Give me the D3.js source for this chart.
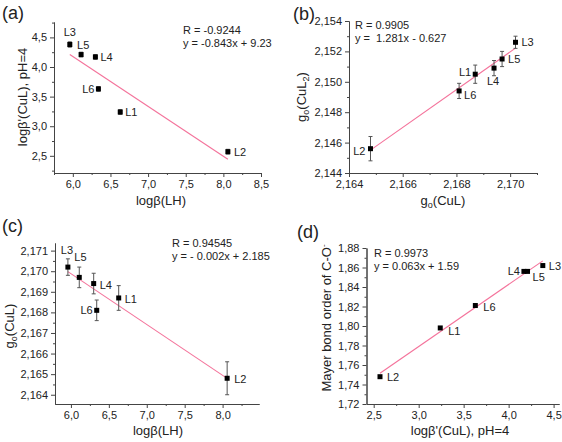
<!DOCTYPE html>
<html><head><meta charset="utf-8">
<script src="https://cdn.jsdelivr.net/npm/d3@7"></script>
<style>
body{margin:0;background:#fff;}
text{font-family:"Liberation Sans",Arial,sans-serif;fill:#222;}
</style></head>
<body><svg id="c" width="562" height="442"></svg>
<script>
// ---- data ----
const ligands      = ["L1","L2","L3","L4","L5","L6"];
const logBetaLH    = [6.63, 8.06, 5.96, 6.30, 6.11, 6.34];
const logBetaCuL   = [3.24, 2.57, 4.38, 4.17, 4.21, 3.63];
const logBetaCuLEr = [0.04, 0.04, 0.045, 0.04, 0.04, 0.04];
const goCuL        = [2.1687, 2.1648, 2.1702, 2.1694, 2.1697, 2.1681];
const goCuLErr     = [0.0006, 0.0008, 0.0004, 0.0005, 0.0005, 0.0005];
const goCuL2       = [2.1505, 2.1456, 2.1526, 2.1509, 2.1515, 2.1494];
const goCuL2Err    = [0.0006, 0.0008, 0.0004, 0.0005, 0.0005, 0.0005];
const mayerBO      = [1.798, 1.748, 1.862, 1.856, 1.856, 1.821];

const aXTicks = [6.0, 6.5, 7.0, 7.5, 8.0, 8.5];
const aYTicks = [2.5, 3.0, 3.5, 4.0, 4.5];
const bXTicks = [2.164, 2.166, 2.168, 2.170];
const bYTicks = [2.144, 2.146, 2.148, 2.150, 2.152, 2.154];
const cXTicks = [6.0, 6.5, 7.0, 7.5, 8.0];
const cYTicks = [2.164, 2.165, 2.166, 2.167, 2.168, 2.169, 2.170, 2.171];
const dXTicks = [2.5, 3.0, 3.5, 4.0, 4.5];
const dYTicks = [1.72, 1.74, 1.76, 1.78, 1.80, 1.82, 1.84, 1.86, 1.88];

const fitA = ["R = -0.9244", "y = -0.843x + 9.23"];
const fitB = ["R = 0.9905", "y =  1.281x - 0.627"];
const fitC = ["R = 0.94545", "y = - 0.002x + 2.185"];
const fitD = ["R = 0.9973", "y = 0.063x + 1.59"];

// ---- drawing ----
const svg = d3.select("#c");
const LINE = "#f4739b", AX = "#444";

function comma(dec){ return d => d.toFixed(dec).replace(".", ","); }

function panel(o){
  const g = svg.append("g");
  const x = d3.scaleLinear().domain(o.xd).range(o.xr);
  const y = d3.scaleLinear().domain(o.yd).range(o.yr);
  const minor = (t) => { const out=[]; for(let i=0;i<t.length-1;i++) out.push((t[i]+t[i+1])/2); return out; };
  const xm = minor(o.xt).concat([o.xt[0]-(o.xt[1]-o.xt[0])/2, o.xt[o.xt.length-1]+(o.xt[1]-o.xt[0])/2]).filter(v=>v>=o.xd[0]&&v<=o.xd[1]);
  const ym = minor(o.yt).concat([o.yt[0]-(o.yt[1]-o.yt[0])/2, o.yt[o.yt.length-1]+(o.yt[1]-o.yt[0])/2]).filter(v=>v>=o.yd[0]&&v<=o.yd[1]);
  g.append("g").attr("transform",`translate(0,${o.yr[0]})`)
    .call(d3.axisBottom(x).tickValues(o.xt).tickFormat(comma(o.xdec)).tickSize(4).tickSizeOuter(0));
  g.append("g").attr("transform",`translate(0,${o.yr[0]})`)
    .call(d3.axisBottom(x).tickValues(xm).tickFormat("").tickSize(2).tickSizeOuter(0));
  g.append("g").attr("transform",`translate(${o.xr[0]},0)`)
    .call(d3.axisLeft(y).tickValues(o.yt).tickFormat(comma(o.ydec)).tickSize(4).tickSizeOuter(0));
  g.append("g").attr("transform",`translate(${o.xr[0]},0)`)
    .call(d3.axisLeft(y).tickValues(ym).tickFormat("").tickSize(2).tickSizeOuter(0));
  g.selectAll(".domain").attr("stroke",AX).attr("stroke-width",1);
  g.selectAll(".tick line").attr("stroke",AX);
  g.selectAll(".tick text").attr("font-size",11).attr("font-family","Liberation Sans, Arial, sans-serif").attr("fill","#333");

  // regression line
  const xs=o.xs, ys=o.ys, n=xs.length;
  const mx=d3.mean(xs), my=d3.mean(ys);
  let sxy=0,sxx=0; for(let i=0;i<n;i++){sxy+=(xs[i]-mx)*(ys[i]-my); sxx+=(xs[i]-mx)**2;}
  const b=sxy/sxx, a=my-b*mx;
  const [x0,x1]=d3.extent(xs);
  g.append("line").attr("x1",x(x0)).attr("y1",y(a+b*x0)).attr("x2",x(x1)).attr("y2",y(a+b*x1))
    .attr("stroke",LINE).attr("stroke-width",1.1);

  // error bars
  if(o.ye){
    const eb = g.append("g").attr("stroke","#555").attr("stroke-width",1);
    xs.forEach((v,i)=>{
      const px=x(v), t=y(ys[i]+o.ye[i]), bt=y(ys[i]-o.ye[i]);
      eb.append("line").attr("x1",px).attr("x2",px).attr("y1",t).attr("y2",bt);
      eb.append("line").attr("x1",px-2).attr("x2",px+2).attr("y1",t).attr("y2",t);
      eb.append("line").attr("x1",px-2).attr("x2",px+2).attr("y1",bt).attr("y2",bt);
    });
  }
  // points
  const s=o.ms;
  g.selectAll("rect.pt").data(xs).join("rect").attr("class","pt")
    .attr("x",(d)=>x(d)-s/2).attr("y",(d,i)=>y(ys[i])-s/2).attr("width",s).attr("height",s).attr("fill","#000");
  // point labels
  ligands.forEach((L,i)=>{
    const off=o.lab[L];
    g.append("text").attr("x",x(xs[i])+off[0]).attr("y",y(ys[i])+off[1])
      .attr("text-anchor",off[2]||"start").attr("font-size",11).text(L);
  });
  // fit text
  o.fit.forEach((t,i)=>{
    g.append("text").attr("x",o.fitPos[0]).attr("y",o.fitPos[1]+i*12.5).attr("font-size",11).attr("xml:space","preserve").text(t);
  });
  svg.append("text").attr("x",o.letter[0]).attr("y",o.letter[1]).attr("font-size",18).text(o.letter[2]);
  const xt = svg.append("text").attr("x",o.xtitle[0]).attr("y",o.xtitle[1]).attr("text-anchor","middle").attr("font-size",13);
  o.xtitle[2](xt);
  const yt = svg.append("text").attr("transform",`translate(${o.ytitle[0]},${o.ytitle[1]}) rotate(-90)`).attr("text-anchor","middle").attr("font-size",13);
  o.ytitle[2](yt);
}

function plain(s){ return t => t.text(s); }
function sub(base, sb, rest, sb2, rest2){
  return t => {
    t.append("tspan").text(base);
    t.append("tspan").attr("font-size",9).attr("dy",3).text(sb);
    t.append("tspan").attr("dy",-3).text(rest);
    if(sb2){ t.append("tspan").attr("font-size",9).attr("dy",3).text(sb2);
             t.append("tspan").attr("dy",-3).text(rest2); }
  };
}

panel({xs:logBetaLH, ys:logBetaCuL, ye:logBetaCuLEr,
  xd:[5.75,8.5], xr:[54,261], yd:[2.21,4.76], yr:[173,22],
  xt:aXTicks, yt:aYTicks, xdec:1, ydec:1, ms:5,
  lab:{L3:[0,-9,"middle"], L5:[-4,-6,"start"], L4:[5,4], L6:[-4,4,"end"], L1:[5,4], L2:[6,4]},
  fit:fitA, fitPos:[183,34], letter:[2,19,"(a)"],
  xtitle:[161,205,plain("logβ(LH)")], ytitle:[27,97,plain("logβ'(CuL), pH=4")]});

panel({xs:goCuL, ys:goCuL2, ye:goCuL2Err,
  xd:[2.164,2.171], xr:[349,537], yd:[2.144,2.154], yr:[173,21],
  xt:bXTicks, yt:bYTicks, xdec:3, ydec:3, ms:5,
  lab:{L3:[6,4], L5:[6,4], L4:[-1,17,"middle"], L1:[-4,2,"end"], L6:[5,8], L2:[-5,6,"end"]},
  fit:fitB, fitPos:[355,29], letter:[293,20,"(b)"],
  xtitle:[443,205,sub("g","o","(CuL)")], ytitle:[306,97,sub("g","o","(CuL","2",")")]});

panel({xs:logBetaLH, ys:goCuL, ye:goCuLErr,
  xd:[5.79,8.48], xr:[55,259], yd:[2.16355,2.17137], yr:[404,243],
  xt:cXTicks, yt:cYTicks, xdec:1, ydec:3, ms:5,
  lab:{L3:[-1,-13,"middle"], L5:[-5,-16,"start"], L4:[6,5], L6:[-4,4,"end"], L1:[6,5], L2:[7,5]},
  fit:fitC, fitPos:[172,247], letter:[2,232,"(c)"],
  xtitle:[158,435,plain("logβ(LH)")], ytitle:[14,326,sub("g","o","(CuL)")]});

panel({xs:logBetaCuL, ys:mayerBO, ye:null,
  xd:[2.42,4.56], xr:[366.5,559], yd:[1.72,1.88], yr:[404,248],
  xt:dXTicks, yt:dYTicks, xdec:1, ydec:2, ms:5,
  lab:{L2:[7,4], L1:[8,7], L6:[8,5], L4:[-4,4,"end"], L5:[5,10], L3:[6,4]},
  fit:fitD, fitPos:[374,257], letter:[297,238,"(d)"],
  xtitle:[460,435,plain("logβ'(CuL), pH=4")],
  ytitle:[331,318,t=>{t.append("tspan").text("Mayer bond order of C-O"); t.append("tspan").attr("font-size",8).attr("dy",-5).text("-");}]});
</script></body></html>
